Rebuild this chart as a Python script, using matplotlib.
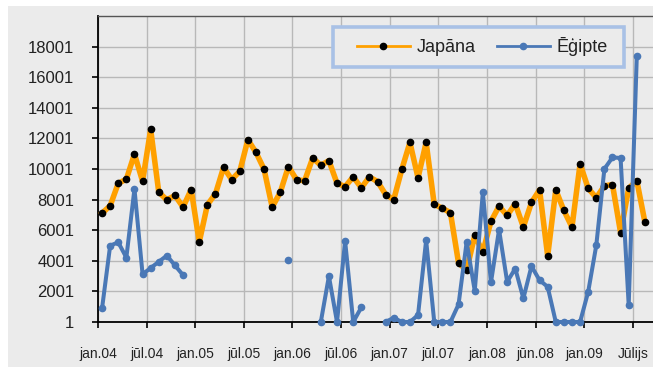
import numpy as np
import matplotlib
matplotlib.use("Agg")
import matplotlib.pyplot as plt
from matplotlib.patches import Rectangle

plt.rcParams['font.family'] = ['Liberation Sans', 'DejaVu Sans']

nan = np.nan

# --- data: monthly, jan.2004 .. aug.2009 ---
japana = [7115, 7597, 9069, 9330, 10980, 9200, 12585, 8485, 7985, 8270,
          7507, 8660, 5228, 7663, 8380, 10110, 9310, 9850, 11914, 11088,
          9980, 7507, 8485, 10155, 9310, 9225, 10720, 10240, 10546, 9069,
          8854, 9485, 8770, 9485, 9180, 8333, 8007, 9980, 11738, 9420,
          11738, 7682, 7441, 7141, 3860, 3385, 5664, 4577, 6575, 7571,
          6966, 7727, 6204, 7812, 8638, 4316, 8638, 7291, 6204, 10331,
          8743, 8118, 8899, 8984, 5840, 8743, 9245, 6530]

egipte = [892, 4993, 5208, 4212, 8704, 3125, 3530, 3940, 4342, 3700,
          3060, nan, nan, nan, nan, nan, nan, nan, nan, nan,
          nan, nan, nan, 4082, nan, nan, nan, 1, 2995, 1,
          5293, 1, 958, nan, nan, 1, 280, 1, 1, 456,
          5340, 1, 1, 1, 1150, 5228, 2038, 8485, 2585, 6035,
          2624, 3496, 1543, 3646, 2734, 2300, 1, 1, 1, 1,
          1974, 5013, 10006, 10761, 10720, 1107, 17382, nan]

tick_months = [0, 6, 12, 18, 24, 30, 36, 42, 48, 54, 60, 66]
tick_labels = ["jan.04", "jūl.04", "jan.05", "jūl.05", "jan.06", "jūl.06",
               "jan.07", "jūl.07", "jan.08", "jūn.08", "jan.09", "Jūlijs"]
y_ticks = list(range(1, 18002, 2000))

orange = "#ffa000"
blue = "#4a78b6"
bg = "#ebebeb"

fig = plt.figure(figsize=(6.53, 3.67), dpi=100, facecolor="white")
fig.patches.append(Rectangle((8 / 653, 0), 1, 1 - 6 / 367, transform=fig.transFigure,
                             facecolor=bg, edgecolor="none", zorder=-10))

ax = fig.add_axes([98 / 653, 1 - 322 / 367, 555 / 653, 306 / 367])
ax.set_facecolor(bg)

x = np.arange(len(japana)) + 0.5
ax.plot(x, japana, color=orange, lw=4.0, marker="o", ms=4.5,
        mfc="black", mec="black", label="Japāna", clip_on=False, zorder=3)
ax.plot(x, egipte, color=blue, lw=2.9, marker="o", ms=4.5,
        mfc=blue, mec=blue, label="Ēģipte", clip_on=False, zorder=4)

ax.set_xlim(0, 68.5)
ax.set_ylim(1, 20001)
ax.set_yticks(y_ticks)
ax.set_yticklabels([str(v) for v in y_ticks])
ax.set_xticks(tick_months)
ax.set_xticklabels(tick_labels)

ax.grid(True, color="#b8b8b8", lw=1.0)
ax.set_axisbelow(True)

for s in ["left", "bottom"]:
    ax.spines[s].set_color("black")
    ax.spines[s].set_linewidth(1.3)
ax.spines["top"].set_color("#555555")
ax.spines["top"].set_linewidth(1.0)
ax.spines["right"].set_visible(False)

ax.tick_params(axis="y", length=4, width=1.2, pad=13, labelsize=12, colors="black")
ax.tick_params(axis="x", length=4, width=1.2, pad=14, labelsize=10, colors="black")
for lab in ax.get_yticklabels() + ax.get_xticklabels():
    lab.set_color("#222222")

# legend box (light blue frame), drawn separately from the entries
ax.add_patch(Rectangle((0.4234, 0.8333), 0.5243, 0.1307, transform=ax.transAxes,
                       facecolor=bg, edgecolor="#a9c1e6", lw=2.6, zorder=2.5,
                       clip_on=False))
leg = ax.legend(loc="center left", bbox_to_anchor=(0.4667, 0.899), borderaxespad=0,
                borderpad=0, ncol=2, fontsize=13, handlelength=2.93,
                handletextpad=0.39, columnspacing=1.16, frameon=False)
for h in leg.legend_handles:
    h.set_linewidth(2.0)
for t in leg.get_texts():
    t.set_color("#222222")

fig.savefig("out.png", dpi=100, facecolor=fig.get_facecolor())
